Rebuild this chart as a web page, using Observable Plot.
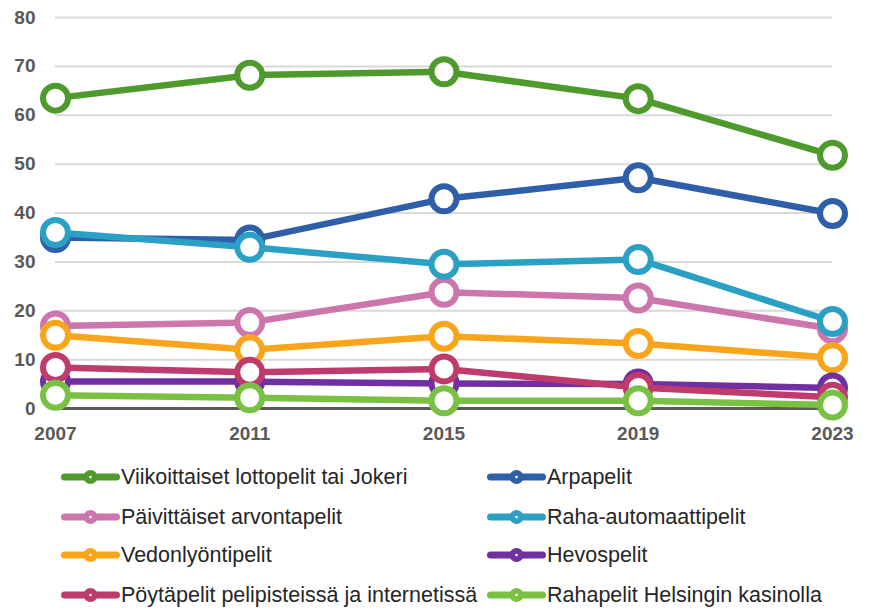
<!DOCTYPE html>
<html>
<head>
<meta charset="utf-8">
<script src="https://cdn.jsdelivr.net/npm/d3@7"></script>
<script src="https://cdn.jsdelivr.net/npm/@observablehq/plot@0.6"></script>
<style>
  html, body { margin: 0; padding: 0; background: #fff; }
  #wrap { width: 872px; height: 608px; position: relative; overflow: hidden; }
  #legend { position: absolute; left: 0; top: 450px; width: 872px; height: 158px; font-family: "Liberation Sans", Arial, sans-serif; font-size: 21.5px; color: #262626; }
  .item { position: absolute; height: 24px; display: flex; align-items: center; white-space: nowrap; }
  .item svg { display: block; margin-right: 1px; }
</style>
</head>
<body>
<div id="wrap">
  <div id="chart"></div>
  <div id="legend"></div>
</div>
<script>
const years = [2007, 2011, 2015, 2019, 2023];
const yTicks = [0, 10, 20, 30, 40, 50, 60, 70, 80];

const seriesNames = [
  "Viikoittaiset lottopelit tai Jokeri",
  "Arpapelit",
  "Päivittäiset arvontapelit",
  "Raha-automaattipelit",
  "Vedonlyöntipelit",
  "Hevospelit",
  "Pöytäpelit pelipisteissä ja internetissä",
  "Rahapelit Helsingin kasinolla"
];
const seriesColors = ["#4f9a2c", "#2e5fa8", "#cd76ad", "#2aa0c4", "#f9a51b", "#7030a0", "#bf3b6c", "#79c143"];

const lotto      = [63.5, 68.2, 68.9, 63.4, 51.8];
const arpa       = [35.0, 34.5, 42.9, 47.2, 39.9];
const paivittain = [16.9, 17.6, 23.8, 22.6, 16.3];
const automaatti = [36.0, 33.0, 29.5, 30.5, 17.8];
const vedonlyonti= [15.0, 12.0, 14.8, 13.3, 10.4];
const hevos      = [5.5, 5.5, 5.1, 5.0, 4.2];
const poyta      = [8.4, 7.4, 8.1, 4.3, 2.3];
const kasino     = [2.7, 2.2, 1.6, 1.6, 0.7];

const seriesValues = [lotto, arpa, paivittain, automaatti, vedonlyonti, hevos, poyta, kasino];

const series = seriesNames.map((name, i) => ({
  name,
  color: seriesColors[i],
  rows: years.map((year, j) => ({ year, value: seriesValues[i][j] }))
}));

const seriesMarks = series.flatMap(s => [
  Plot.line(s.rows, { x: "year", y: "value", stroke: s.color, strokeWidth: 6.5, strokeLinejoin: "round" }),
  Plot.dot(s.rows, { x: "year", y: "value", r: 12.5, stroke: s.color, strokeWidth: 6, fill: "white" })
]);

const chart = Plot.plot({
  width: 872,
  height: 450,
  marginLeft: 55,
  marginRight: 40,
  marginTop: 17,
  marginBottom: 42,
  style: { fontFamily: "'Liberation Sans', Arial, sans-serif", fontSize: "19px", fontWeight: "bold", color: "#595959", background: "white", overflow: "visible" },
  x: { domain: [2007, 2023] },
  y: { domain: [0, 80] },
  marks: [
    Plot.ruleY(yTicks.filter(d => d !== 0), { stroke: "#d9d9d9", strokeWidth: 2 }),
    Plot.ruleY([0], { stroke: "#595959", strokeWidth: 3 }),
    Plot.axisY({ ticks: yTicks, tickSize: 0, tickPadding: 20, label: null, tickFormat: "d" }),
    Plot.axisX({ ticks: years, tickSize: 0, tickPadding: 18, label: null, tickFormat: "d" }),
    ...seriesMarks
  ]
});
document.getElementById("chart").appendChild(chart);

// Legend (two columns, row-major)
const legend = document.getElementById("legend");
const colX = [61, 487];
const rowY = [27, 67, 105, 145];
series.forEach((s, i) => {
  const col = i % 2, row = Math.floor(i / 2);
  const item = document.createElement("div");
  item.className = "item";
  item.style.left = colX[col] + "px";
  item.style.top = (rowY[row] - 12) + "px";
  const ns = "http://www.w3.org/2000/svg";
  const sw = document.createElementNS(ns, "svg");
  sw.setAttribute("width", 59); sw.setAttribute("height", 24);
  const ln = document.createElementNS(ns, "line");
  ln.setAttribute("x1", 3.5); ln.setAttribute("x2", 55.5); ln.setAttribute("y1", 12); ln.setAttribute("y2", 12);
  ln.setAttribute("stroke", s.color); ln.setAttribute("stroke-width", 7); ln.setAttribute("stroke-linecap", "round");
  const c = document.createElementNS(ns, "circle");
  c.setAttribute("cx", 29.5); c.setAttribute("cy", 12); c.setAttribute("r", 7); c.setAttribute("fill", s.color);
  const d = document.createElementNS(ns, "circle");
  d.setAttribute("cx", 29.5); d.setAttribute("cy", 12); d.setAttribute("r", 1.3); d.setAttribute("fill", "white");
  sw.appendChild(ln); sw.appendChild(c); sw.appendChild(d);
  const t = document.createElement("span");
  t.textContent = s.name;
  item.appendChild(sw); item.appendChild(t);
  legend.appendChild(item);
});
</script>
</body>
</html>
